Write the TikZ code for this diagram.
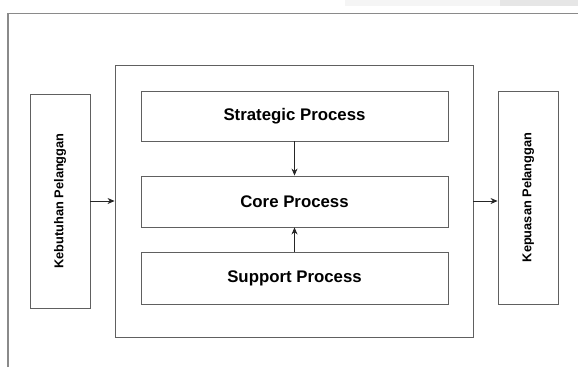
\documentclass[tikz,border=0pt]{standalone}
\usepackage{fontspec}
\setmainfont{Liberation Sans}
\usetikzlibrary{arrows.meta}
\definecolor{boxline}{HTML}{606060}
\definecolor{frameline}{HTML}{8A8A8A}
\tikzset{
  procbox/.style={draw=boxline, line width=0.9pt, rectangle, inner sep=0pt,
    font=\fontsize{16.8}{20}\selectfont\bfseries, text=black},
  sidebox/.style={draw=boxline, line width=0.9pt, rectangle, inner sep=0pt,
    font=\fontsize{12.8}{15}\selectfont\bfseries, text=black},
  conn/.style={draw=black!85, line width=0.7pt, -{Stealth[length=7pt,width=6pt]}}
}
\begin{document}
\begin{tikzpicture}[x=1pt,y=-1pt]
\useasboundingbox (0,0) rectangle (578,367);
% faint strips at the top
\fill[fill={rgb,255:red,245;green,245;blue,245}] (345,0) rectangle (578,5.5);
\fill[fill={rgb,255:red,230;green,230;blue,230}] (500,0) rectangle (578,5.5);
% outer frame
\draw[frameline, line width=1.8pt] (8,367) -- (8,13.5) -- (578,13.5);
% boxes
\node[procbox, minimum width=358pt, minimum height=272pt] (mid) at (294,201) {};
\node[procbox, minimum width=307pt, minimum height=50pt] (strat) at (294.5,116) {Strategic Process};
\node[procbox, minimum width=307pt, minimum height=51pt] (core) at (294.5,201.5) {Core Process};
\node[procbox, minimum width=307pt, minimum height=52pt] (supp) at (294.5,278) {Support Process};
\node[sidebox, minimum width=60pt, minimum height=214pt] (kb) at (60,201) {\rotatebox{90}{Kebutuhan Pelanggan}};
\node[sidebox, minimum width=60pt, minimum height=213pt] (kp) at (528,197.5) {\rotatebox{90}{Kepuasan Pelanggan}};
% connectors
\draw[conn] (strat.south) -- (core.north);
\draw[conn] (supp.north) -- (core.south);
\draw[conn] (kb.east |- mid.west) -- (mid.west);
\draw[conn] (mid.east) -- (mid.east -| kp.west);
\end{tikzpicture}
\end{document}
